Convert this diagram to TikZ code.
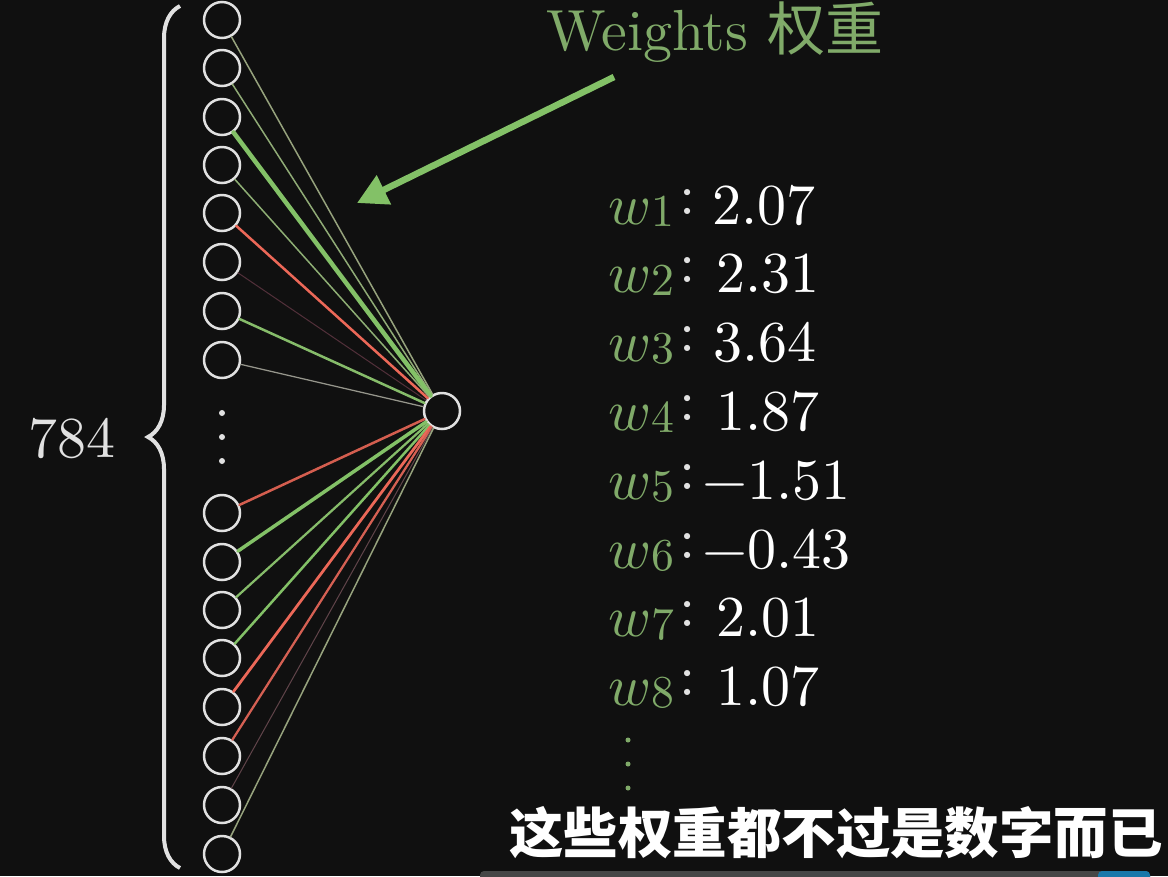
\documentclass[tikz,border=0pt]{standalone}
\usepackage{amsmath}
\usepackage{xcolor}
\usepackage{fontspec}
\usepackage{unicode-math}
\usepackage{tikz}
\usetikzlibrary{arrows.meta, decorations.pathreplacing, positioning}
\setmainfont{lmroman10-regular.otf}[BoldFont=lmroman10-bold.otf, ItalicFont=lmroman10-italic.otf]
\setmathfont{Latin Modern Math}
\newfontfamily\cjk{Noto Sans CJK SC}

\definecolor{bg}{RGB}{16,16,16}
\definecolor{ring}{RGB}{225,225,225}
\definecolor{wgreen}{RGB}{131,193,103}
\definecolor{wlabel}{RGB}{128,170,105}
\definecolor{wred}{RGB}{236,104,88}
\definecolor{wpale}{RGB}{150,162,125}
\definecolor{wfaint}{RGB}{82,48,58}
\definecolor{wgrey}{RGB}{150,150,140}
\definecolor{barfill}{RGB}{70,70,70}
\definecolor{barblue}{RGB}{25,120,170}

\begin{document}
\begin{tikzpicture}[x=0.02cm, y=-0.02cm, font=\fontsize{33}{38}\selectfont]
        \tikzstyle{neuron} = [circle, draw=ring, line width=0.05cm, minimum size=0.72cm, inner sep=0pt]
        \tikzstyle{line} = [draw, line cap=round]
        \tikzstyle{wname} = [text=wlabel, anchor=base west, inner sep=0pt]
        \tikzstyle{value} = [text=white, anchor=base west, inner sep=0pt]

        \useasboundingbox (0,0) rectangle (1168,876);
        \fill [bg] (0,0) rectangle (1168,876);

        % input layer, output neuron
        \foreach \i/\y in {1/20,2/68,3/117,4/165,5/213,6/262,7/311,8/360,9/513,10/562,11/610,12/658,13/707,14/756,15/805,16/854}
            \node [neuron] (in_\i) at (222,\y) {};
        \foreach \y in {413,437,461}
            \fill [ring] (222,\y) circle (0.06cm);
        \node [neuron] (out) at (442,411) {};

        % weighted edges
        \foreach \i/\c/\w in {1/wpale/0.03, 2/wpale!70!wgreen/0.03, 3/wgreen/0.09, 4/wpale!60!wgreen/0.03,
                5/wred/0.05, 6/wfaint/0.02, 7/wgreen!85!wpale/0.05, 8/wgrey/0.025,
                9/wred!90!black/0.05, 10/wgreen/0.07, 11/wgreen!85!wpale/0.045, 12/wgreen/0.05,
                13/wred/0.055, 14/wred!85!wfaint/0.045, 15/wfaint!80!wgrey/0.02, 16/wpale/0.03}
            \path [line, draw=\c, line width=\w cm] (in_\i) -- (out);

        \draw [ring, line width=0.08cm, decorate, decoration={brace, amplitude=0.64cm}] (180,868) -- (180,6);
        \node [text=ring, anchor=base] (count) at (72,457) {784};

        \node [text=wlabel, anchor=base] (weights) at (715,50) {Weights {\cjk 权重}};
        \coordinate (arrow_start) at (614,77);
        \coordinate (arrow_tip) at (357,203);
        \draw [wgreen, line width=0.13cm, -{Triangle[length=0.6cm, width=0.62cm]}] (arrow_start) -- (arrow_tip);

        \foreach \i/\v/\x in {1/2.07/712, 2/2.31/716, 3/3.64/713, 4/1.87/716, 5/−1.51/702, 6/−0.43/702, 7/2.01/716, 8/1.07/716} {
            \pgfmathsetmacro\yy{224+68.8*(\i-1)}
            \node [wname] (w_\i) at (608,\yy) {$w$\hspace{1pt}\raisebox{-0.04em}{\fontsize{26}{26}\selectfont\i}\hspace{3pt}\raisebox{0.17em}{\textcolor{ring}{:}}};
            \node [value] (v_\i) at (\x,\yy) {\v};
        }
        \foreach \y in {740,764,788}
            \fill [wlabel] (628,\y) circle (0.05cm);

        \node [text=white, font=\cjk\bfseries\fontsize{31}{36}\selectfont] (caption) at (836,833) {这些权重都不过是数字而已};
        \fill [barfill, rounded corners=0.08cm] (480,871) rectangle (1150,884);
        \fill [barblue, rounded corners=0.08cm] (1098,871) rectangle (1150,884);
    \end{tikzpicture}
\end{document}
